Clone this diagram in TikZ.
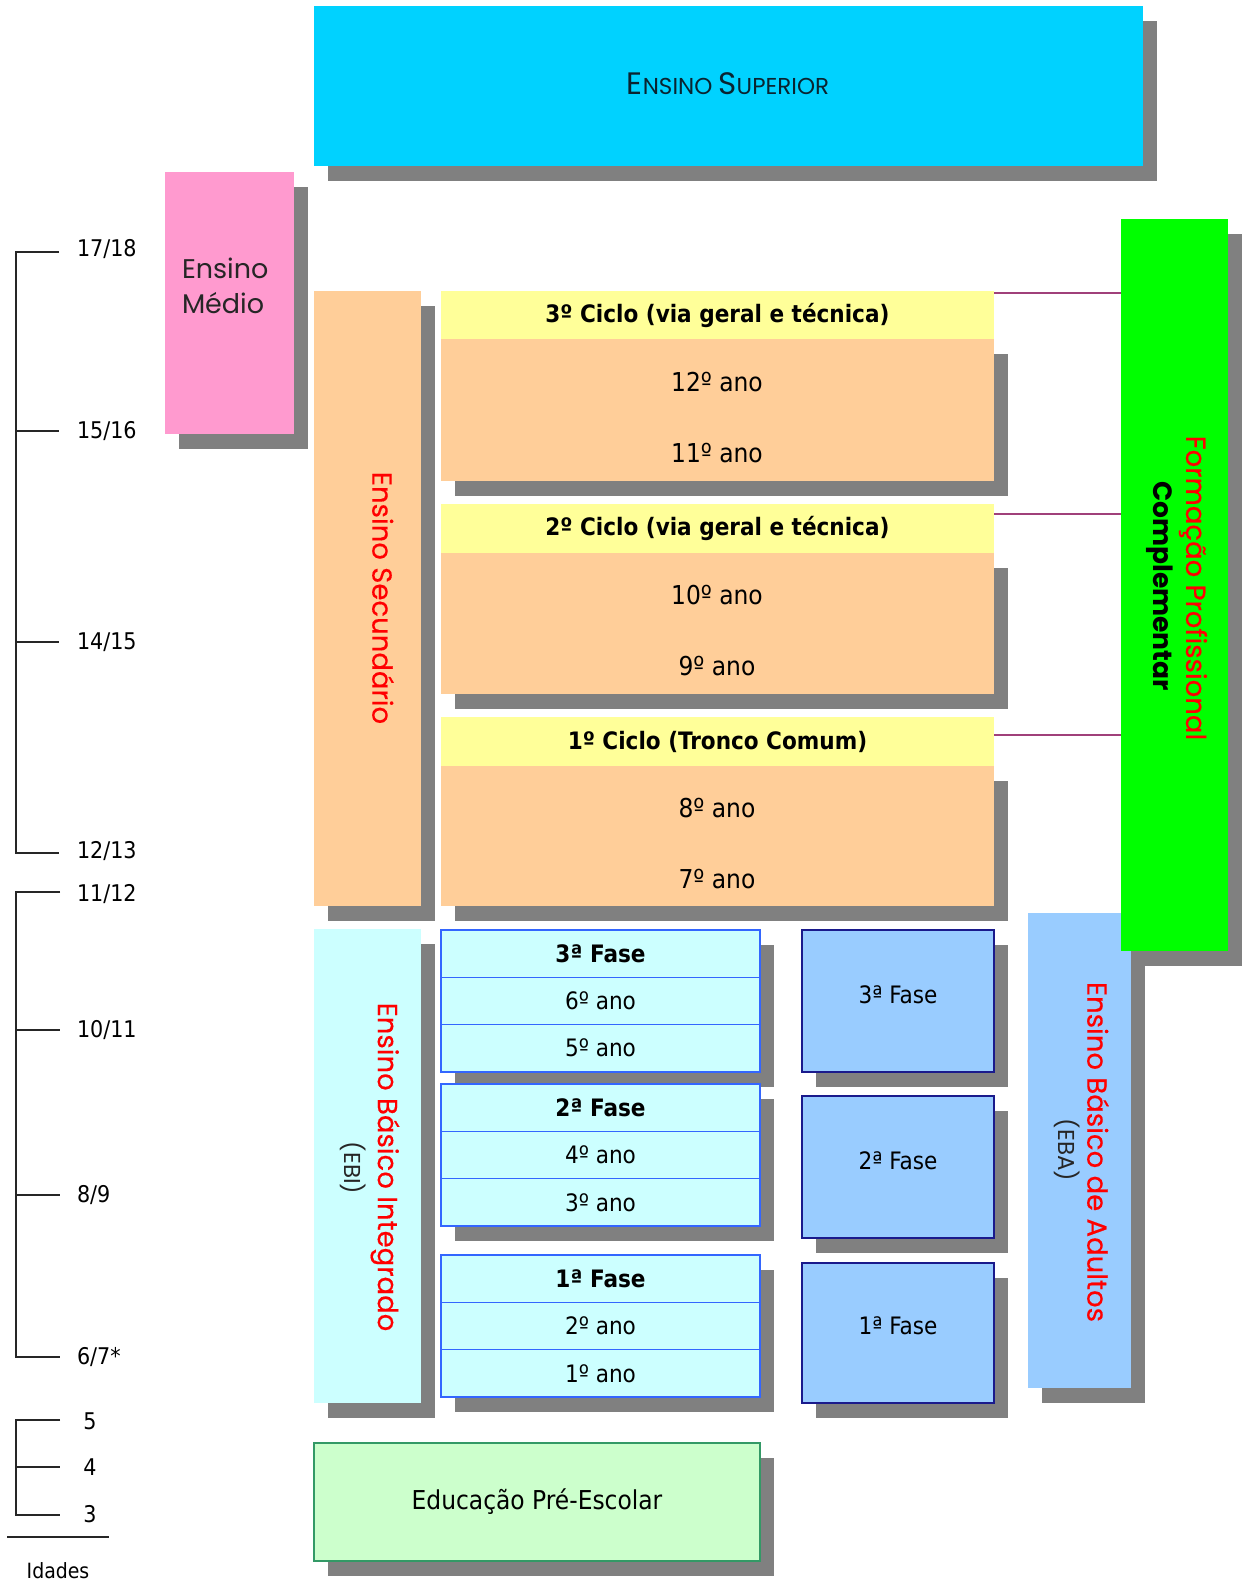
\documentclass[tikz,border=0pt]{standalone}
\usepackage{fontspec}
\setmainfont{DejaVu Sans Condensed}
\newfontfamily\gothic{Poppins}
\newfontfamily\gothicm[FakeBold=0.4]{Poppins}
\usetikzlibrary{shadows,calc}
\newcommand\fsz[2]{\fontsize{#1}{#2}\selectfont}
\definecolor{supc}{HTML}{00D2FF}
\definecolor{pinkc}{HTML}{FF9ACF}
\definecolor{orc}{HTML}{FFCE99}
\definecolor{yelc}{HTML}{FFFF99}
\definecolor{grnc}{HTML}{00FF00}
\definecolor{ebic}{HTML}{CCFFFF}
\definecolor{ebac}{HTML}{99CCFF}
\definecolor{prec}{HTML}{CCFFCC}
\definecolor{prebd}{HTML}{339966}
\definecolor{shgray}{HTML}{808080}
\definecolor{conncol}{HTML}{A0407A}
\definecolor{ebibd}{HTML}{3366FF}
\definecolor{ebabd}{HTML}{1A1A8C}
\definecolor{redt}{HTML}{FF0000}
\definecolor{darkt}{HTML}{0A2430}
\begin{document}
\begin{tikzpicture}[x=1pt,y=-1pt,
  every node/.style={inner sep=0pt,outer sep=0pt},
  blk/.style={anchor=north west,draw=none},
  shd/.style={drop shadow={shadow xshift=14pt,shadow yshift=-15pt,fill=shgray,opacity=1}},
  conn/.style={draw=conncol,line width=1.5pt},
  age/.style={font=\fsz{23}{27},anchor=west},
  tickln/.style={line width=2.2pt,black!85},
  ebirow/.style={anchor=north west,draw=ebibd,line width=1.3pt,fill=ebic,minimum width=319pt,minimum height=47.3pt,font=\fsz{24}{28}},
  ebabox/.style={anchor=north west,draw=ebabd,line width=1.5pt,fill=ebac,minimum width=192pt,shd},
  vtitle/.style={rotate=-90,text=redt,font=\gothicm\fsz{27.5}{30}},
  vsub/.style={rotate=-90,text=black!85,font=\gothic\fsz{23}{26}},
  yr/.style={font=\fsz{26}{30}},
  hdr/.style={font=\bfseries\fsz{24}{28}}
]
\useasboundingbox (0,0) rectangle (1242,1582);
\fill[white] (0,0) rectangle (1242,1582);

% Ensino Superior
\node[blk,shd,fill=supc,minimum width=829pt,minimum height=160pt] (sup) at (314,6) {};
\node[text=darkt,font=\gothic] (suptxt) at (728,84) {\fsz{31}{31}E\fsz{23}{23}NSINO \fsz{31}{31}S\fsz{23}{23}UPERIOR};

% Ensino Medio
\node[blk,shd,fill=pinkc,minimum width=129pt,minimum height=262pt] (med) at (165,172) {};
\node[anchor=north west,align=left,font=\gothic\fsz{27}{35},text=black!85] (medtxt) at (182,258) {Ensino\\Médio};

% Ensino Secundario
\node[blk,shd,fill=orc,minimum width=107pt,minimum height=615pt] (sec) at (314,291) {};
\node[vtitle] (sectxt) at (383,598) {Ensino Secundário};

% Ciclos
\node[blk,fill=yelc,minimum width=553pt,minimum height=48pt,hdr] (c3h) at (441,291) {\raisebox{-3pt}{3º Ciclo (via geral e técnica)}};
\node[blk,shd,fill=orc,minimum width=553pt,minimum height=142pt] (c3b) at (441,339) {};
\node[yr] (y12) at (717,382) {12º ano};
\node[yr] (y11) at (717,453) {11º ano};

\node[blk,fill=yelc,minimum width=553pt,minimum height=49pt,hdr] (c2h) at (441,504) {\raisebox{-3pt}{2º Ciclo (via geral e técnica)}};
\node[blk,shd,fill=orc,minimum width=553pt,minimum height=141pt] (c2b) at (441,553) {};
\node[yr] (y10) at (717,595) {10º ano};
\node[yr] (y9) at (717,666) {9º ano};

\node[blk,fill=yelc,minimum width=553pt,minimum height=49pt,hdr] (c1h) at (441,717) {\raisebox{-3pt}{1º Ciclo (Tronco Comum)}};
\node[blk,shd,fill=orc,minimum width=553pt,minimum height=140pt] (c1b) at (441,766) {};
\node[yr] (y8) at (717,808) {8º ano};
\node[yr] (y7) at (717,879) {7º ano};

% EBI column
\node[blk,shd,fill=ebic,minimum width=107pt,minimum height=474pt] (ebi) at (314,929) {};
\node[vtitle] (ebitxt) at (385,1167) {Ensino Básico Integrado};
\node[vsub] (ebisub) at (353,1168) {(EBI)};

% EBI phases
\node[ebirow,shd,font=\bfseries\fsz{24}{28}] (f3h) at (441,930) {3ª Fase};
\node[ebirow,shd] (f3a) at (441,977.3) {6º ano};
\node[ebirow,shd] (f3b) at (441,1024.6) {5º ano};
\node[ebirow,shd,font=\bfseries\fsz{24}{28}] (f2h) at (441,1084) {2ª Fase};
\node[ebirow,shd] (f2a) at (441,1131.3) {4º ano};
\node[ebirow,shd] (f2b) at (441,1178.6) {3º ano};
\node[ebirow,shd,font=\bfseries\fsz{24}{28}] (f1h) at (441,1255) {1ª Fase};
\node[ebirow,shd] (f1a) at (441,1302.3) {2º ano};
\node[ebirow,shd] (f1b) at (441,1349.6) {1º ano};

% EBA phases
\node[ebabox,minimum height=142pt] (e3) at (802,930) {};
\node[font=\fsz{24}{28}] (e3t) at ($(e3.center)+(0,-6)$) {3ª Fase};
\node[ebabox,minimum height=142pt] (e2) at (802,1096) {};
\node[font=\fsz{24}{28}] (e2t) at ($(e2.center)+(0,-6)$) {2ª Fase};
\node[ebabox,minimum height=140pt] (e1) at (802,1263) {};
\node[font=\fsz{24}{28}] (e1t) at ($(e1.center)+(0,-7)$) {1ª Fase};

% EBA column
\node[blk,shd,fill=ebac,minimum width=103pt,minimum height=475pt] (eba) at (1028,913) {};
\node[vtitle] (ebatxt) at (1098,1152) {Ensino Básico de Adultos};
\node[vsub] (ebasub) at (1067,1150) {(EBA)};

% Formacao Profissional
\node[blk,shd,fill=grnc,minimum width=107pt,minimum height=732pt] (fpc) at (1121,219) {};
\node[vtitle] (fpctxt) at (1193,588) {Formação Profissional};
\node[vtitle,text=black,font=\gothic\bfseries\fsz{26.5}{30}] (fpcsub) at (1160,586) {Complementar};

% connectors
\draw[conn] ([yshift=-2pt]c3h.north east) -- ([yshift=-2pt]c3h.north east -| fpc.west);
\draw[conn] ([yshift=-10pt]c2h.north east) -- ([yshift=-10pt]c2h.north east -| fpc.west);
\draw[conn] ([yshift=-18pt]c1h.north east) -- ([yshift=-18pt]c1h.north east -| fpc.west);

% Pre-escolar
\node[blk,shd,fill=prec,draw=prebd,line width=1.3pt,minimum width=446pt,minimum height=118pt,font=\fsz{26}{30}] (pre) at (314,1443) {Educação Pré-Escolar};

% Age scale
\draw[tickln] (59,252) -- (16,252) -- (16,853) -- (59,853);
\draw[tickln] (16,431) -- (59,431);
\draw[tickln] (16,642) -- (59,642);
\draw[tickln] (60,892) -- (16,892) -- (16,1357) -- (60,1357);
\draw[tickln] (16,1030) -- (60,1030);
\draw[tickln] (16,1195) -- (60,1195);
\draw[tickln] (60,1420) -- (16,1420) -- (16,1515) -- (60,1515);
\draw[tickln] (16,1467) -- (60,1467);
\draw[tickln] (7,1537) -- (109,1537);
\node[age] (a1) at (77,249) {17/18};
\node[age] (a2) at (77,431) {15/16};
\node[age] (a3) at (77,642) {14/15};
\node[age] (a4) at (77,851) {12/13};
\node[age] (a5) at (77,894) {11/12};
\node[age] (a6) at (77,1030) {10/11};
\node[age] (a7) at (77,1195) {8/9};
\node[age] (a8) at (77,1357) {6/7*};
\node[font=\fsz{23}{27}] (a9) at (90,1421) {5};
\node[font=\fsz{23}{27}] (a10) at (90,1467) {4};
\node[font=\fsz{23}{27}] (a11) at (90,1514) {3};
\node[font=\fsz{21}{24}] (idades) at (58,1571) {Idades};
\end{tikzpicture}
\end{document}
